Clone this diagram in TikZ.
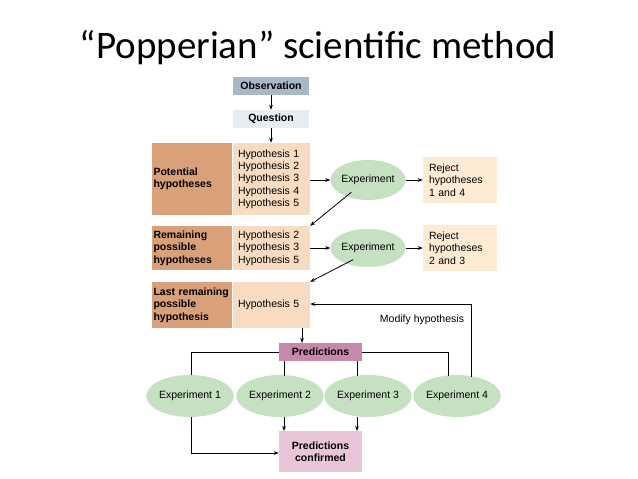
\documentclass[tikz,border=0pt]{standalone}
\usepackage{fontspec}
\setmainfont{Liberation Sans}
\newfontfamily\titlefont{Carlito}
\usetikzlibrary{shapes.geometric,arrows.meta}
\definecolor{darkb}{HTML}{D9A07A}
\definecolor{lightb}{HTML}{F8DCC2}
\definecolor{rejb}{HTML}{FDEBD4}
\definecolor{expg}{HTML}{C6E0C2}
\definecolor{obsb}{HTML}{A9B8C9}
\definecolor{qb}{HTML}{E6EDF3}
\definecolor{predb}{HTML}{C888AA}
\definecolor{pcb}{HTML}{E8C6D8}
\begin{document}
\begin{tikzpicture}[x=1pt,y=-1pt,
 every node/.style={font=\fontsize{10.5}{12.3}\selectfont, inner sep=0pt},
 dark/.style={fill=darkb, align=left, text width=77pt, minimum height=#1, inner xsep=1.5pt},
 light/.style={fill=lightb, align=left, text width=67pt, minimum height=#1, inner xsep=5pt},
 expt/.style={ellipse, fill=expg, minimum width=72pt, minimum height=40pt},
 rej/.style={fill=rejb, align=left, text width=62pt, minimum height=46pt, inner xsep=6pt},
 bl/.style={font=\bfseries\fontsize{10.5}{12.3}\selectfont},
 arr/.style={-{Stealth[length=5pt]}, thick},
 ln/.style={thick}]
\useasboundingbox (0,0) rectangle (638,479);
\node[font=\titlefont\fontsize{39}{43}\selectfont] (title) at (318,48) {“Popperian” scientific method};
\node[fill=obsb, minimum width=76pt, minimum height=18pt, bl] (obs) at (271,86) {Observation};
\node[fill=qb, minimum width=76pt, minimum height=18pt, bl] (q) at (271,119) {Question};
\node[dark=72pt, bl] (d1) at (192,179) {Potential\\hypotheses};
\node[light=72pt] (l1) at (271.5,179) {Hypothesis 1\\Hypothesis 2\\Hypothesis 3\\Hypothesis 4\\Hypothesis 5};
\node[expt] (e1) at (368,180) {Experiment};
\node[rej] (r1) at (460,180) {Reject\\hypotheses\\1 and 4};
\node[dark=44pt, bl] (d2) at (192,248) {Remaining\\possible\\hypotheses};
\node[light=44pt] (l2) at (271.5,248) {Hypothesis 2\\Hypothesis 3\\Hypothesis 5};
\node[expt, minimum height=38pt] (e2) at (368,248) {Experiment};
\node[rej] (r2) at (460,248) {Reject\\hypotheses\\2 and 3};
\node[dark=46pt, bl] (d3) at (192,305) {\mbox{Last remaining}\\possible\\hypothesis};
\node[light=46pt] (l3) at (271.5,305) {Hypothesis 5};
\node[fill=predb, minimum width=83pt, minimum height=18pt, bl] (p) at (320.5,352) {Predictions};
\node[expt, minimum width=82pt, minimum height=42pt] (x1) at (190,396) {Experiment 1};
\node[expt, minimum width=82pt, minimum height=42pt] (x2) at (280,396) {Experiment 2};
\node[expt, minimum width=82pt, minimum height=42pt] (x3) at (368,396) {Experiment 3};
\node[expt, minimum width=82pt, minimum height=42pt] (x4) at (457,396) {Experiment 4};
\node[fill=pcb, minimum width=83pt, minimum height=41pt, align=center, bl] (pc) at (320.5,451.5) {Predictions\\confirmed};
\node (mod) at (422,320) {Modify hypothesis};
\coordinate (c1) at (471,304);
\coordinate (c2) at (191,453);
\draw[arr] (obs) -- (q);
\draw[arr] (q) -- (q|-l1.north);
\draw[arr] (l1.east|-e1) -- (e1);
\draw[arr] (e1) -- (r1);
\draw[arr] (e1.south west)++(10,-2) -- (l2.north east);
\draw[arr] (l2.east|-e2) -- (e2);
\draw[arr] (e2) -- (r2);
\draw[arr] (e2.south west)++(12,-2) -- (l3.north east);
\draw[arr] (302,328) -- (302,343);
\draw[ln] (p.west) -| (191,375);
\draw[ln] (p.east) -| (448,376);
\draw[ln] (284,361) -- (284,376);
\draw[ln] (357,361) -- (357,376);
\draw[arr] (284,417) -- (284,431);
\draw[arr] (357,417) -- (357,431);
\draw[ln] (191,417) -- (c2);
\draw[arr] (c2) -- (pc.west|-c2);
\draw[ln] (471,377) -- (c1);
\draw[arr] (c1) -- (l3.east|-c1);
\end{tikzpicture}
\end{document}
